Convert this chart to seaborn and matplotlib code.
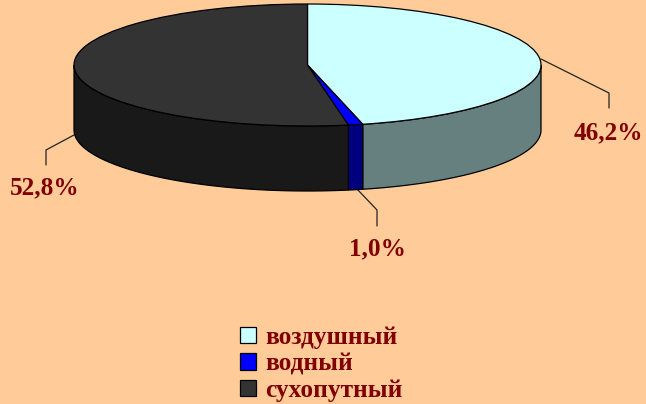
import numpy as np
import matplotlib
matplotlib.use('Agg')
import matplotlib.pyplot as plt
import seaborn as sns

categories = ['воздушный', 'водный', 'сухопутный']
values = [46.2, 1.0, 52.8]
top_colors = ['#CCFFFF', '#0000FF', '#333333']
side_colors = ['#667F7F', '#00007F', '#191919']

bg = '#FFCC99'
text_color = '#800000'

sns.set_theme(style='white', rc={'figure.facecolor': bg, 'axes.facecolor': bg})
plt.rcParams['font.family'] = ['Liberation Serif', 'DejaVu Serif']

# pie is drawn with radius 1, axes scaled so it comes out as a flat ellipse
CX, CY, RX, RY, DEPTH = 307.5, 65.0, 233.5, 61.0, 65.0


def px(x, y):
    return (np.asarray(x) - CX) / RX, (CY - np.asarray(y)) / RY


fig = plt.figure(figsize=(6.46, 4.04), dpi=100)
ax = fig.add_axes([0, 0, 1, 1])

wedges, _ = ax.pie(values, startangle=90, counterclock=False, colors=top_colors, radius=1,
                   wedgeprops={'edgecolor': 'black', 'linewidth': 0.9, 'zorder': 5})
ax.set_aspect('auto')
ax.set_xlim(-CX / RX, (646 - CX) / RX)
ax.set_ylim((CY - 404) / RY, CY / RY)
ax.axis('off')

# side wall, only the front half of the rim can be seen
d = DEPTH / RY
ends = 90 - np.cumsum([0] + values) * 3.6
for i in range(len(values)):
    a0 = min(ends[i], 0)
    a1 = max(ends[i + 1], -180)
    t = np.radians(np.linspace(a0, a1, 80))
    xs = np.cos(t)
    ys = np.sin(t)
    ax.fill(np.r_[xs, xs[::-1]], np.r_[ys, ys[::-1] - d], facecolor=side_colors[i],
            edgecolor='black', linewidth=0.9, zorder=3)

# leader lines
leaders = [[(541, 59), (609, 93), (609, 108)],
           [(357, 189), (377, 210), (377, 226)],
           [(74, 135), (46, 150), (46, 165)]]
label_pos = [(608.5, 133), (377, 249), (45, 188)]
for line, pos, v in zip(leaders, label_pos, values):
    lx, ly = zip(*line)
    ax.plot(*px(lx, ly), color='#222222', lw=0.9, zorder=2)
    tx, ty = px(*pos)
    ax.text(tx, ty, f'{v:.1f}%'.replace('.', ','), color=text_color, fontsize=18.2,
            fontweight='bold', ha='center', va='center')

leg = ax.legend(wedges, categories, loc='upper left', bbox_to_anchor=(240 / 646, 1 - 326 / 404),
                frameon=False, fontsize=18.3, handlelength=0.62, handleheight=0.62,
                handletextpad=0.36, labelspacing=0.14, borderpad=0, borderaxespad=0)
for txt in leg.get_texts():
    txt.set_color(text_color)
    txt.set_fontweight('bold')

fig.savefig('out.png', dpi=100, facecolor=bg)
